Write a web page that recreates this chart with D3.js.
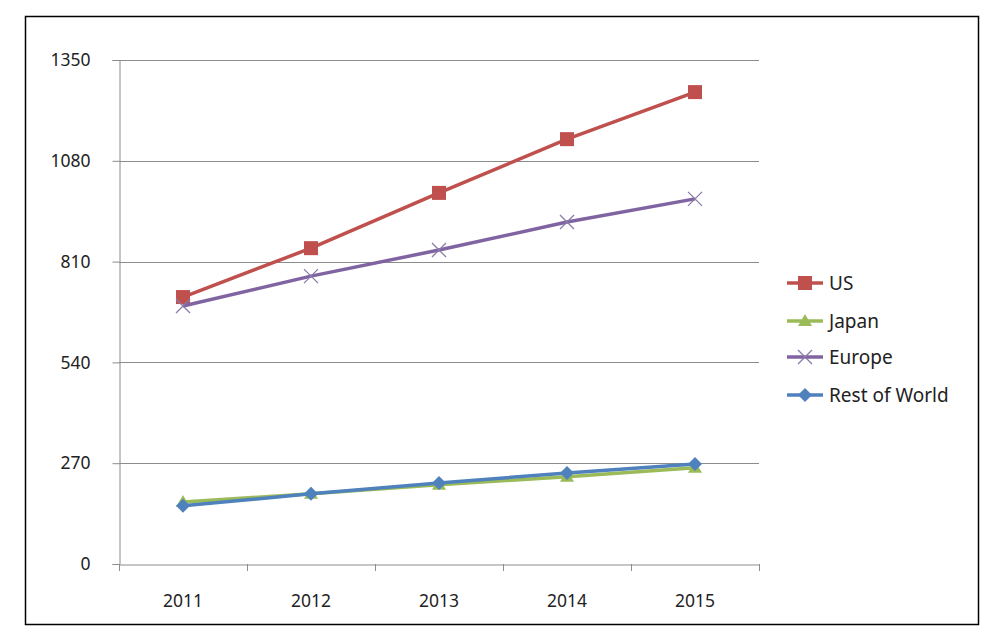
<!DOCTYPE html>
<html><head><meta charset="utf-8">
<script src="https://cdn.jsdelivr.net/npm/d3@7/dist/d3.min.js"></script>
<style>body{margin:0;background:#fff;}svg{display:block;font-family:"Noto Sans","Open Sans",sans-serif;}</style>
</head><body>
<svg id="c" width="991" height="637"></svg>
<script>
const years = ["2011","2012","2013","2014","2015"];
const yTicks = [0,270,540,810,1080,1350];
const seriesNames = ["US","Japan","Europe","Rest of World"];
const us = [715,846,994,1138,1264];
const japan = [166,188,212,234,258];
const europe = [691,771,841,916,978];
const rest = [156,188,217,244,268];
const colors = ["#C0504D","#9BBB59","#8064A2","#4F81BD"];
const markers = ["square","triangle","x","diamond"];
const data = [us,japan,europe,rest];

const svg = d3.select("#c");
svg.append("rect").attr("x",25.5).attr("y",16.5).attr("width",953).attr("height",608)
  .attr("fill","#fff").attr("stroke","#000").attr("stroke-width",1.5);

const L=119,R=759,T=60,B=564;
const x = d3.scaleBand().domain(years).range([L,R]);
const y = d3.scaleLinear().domain([0,1350]).range([B,T]);

// gridlines
svg.append("g").selectAll("line").data(yTicks.filter(d=>d>0)).join("line")
  .attr("x1",L).attr("x2",R).attr("y1",d=>Math.round(y(d))+0.5).attr("y2",d=>Math.round(y(d))+0.5)
  .attr("stroke","#8c8c8c").attr("stroke-width",1);

const yAxis = svg.append("g").attr("transform",`translate(${L+0.5},0)`)
  .call(d3.axisLeft(y).tickValues(yTicks).tickSize(7).tickPadding(22).tickFormat(d3.format("d")));
const xAxis = svg.append("g").attr("transform",`translate(0,${B+0.5})`)
  .call(d3.axisBottom(x).tickSize(0).tickPadding(30));
// x boundary ticks
svg.append("g").selectAll("line").data(years.map(d=>x(d)).concat([R])).join("line")
  .attr("x1",d=>Math.round(d)+0.5).attr("x2",d=>Math.round(d)+0.5).attr("y1",B).attr("y2",B+7)
  .attr("stroke","#8c8c8c");
[yAxis,xAxis].forEach(a=>{
  a.select(".domain").attr("stroke","#8c8c8c");
  a.selectAll(".tick line").attr("stroke","#8c8c8c");
  a.selectAll("text").attr("font-size",17.5).attr("fill","#222").attr("font-family","Noto Sans, sans-serif");
});

function drawMarker(g,type,cx,cy,color,s){
  if(type==="square") g.append("rect").attr("x",cx-7).attr("y",cy-7).attr("width",14).attr("height",14).attr("fill",color);
  else if(type==="triangle") g.append("path").attr("d",`M${cx},${cy-7}L${cx+7},${cy+5}L${cx-7},${cy+5}Z`).attr("fill",color);
  else if(type==="diamond") g.append("path").attr("d",`M${cx},${cy-7}L${cx+7},${cy}L${cx},${cy+7}L${cx-7},${cy}Z`).attr("fill",color);
  else if(type==="x") g.append("path").attr("d",`M${cx-7},${cy-7}L${cx+7},${cy+7}M${cx+7},${cy-7}L${cx-7},${cy+7}`).attr("stroke",color).attr("stroke-width",1.3).attr("fill","none");
}

const line = d3.line().x((d,i)=>x(years[i])+x.bandwidth()/2).y(d=>y(d));
const order=[0,2,1,3];
order.forEach(k=>{
  const g=svg.append("g");
  g.append("path").datum(data[k]).attr("d",line).attr("fill","none").attr("stroke",colors[k]).attr("stroke-width",3.5).attr("stroke-linejoin","round");
  data[k].forEach((v,i)=>drawMarker(g,markers[k],x(years[i])+x.bandwidth()/2,y(v),k===2?"#8a7aab":colors[k]));
});

// legend
const ly=[283,321,357,395];
seriesNames.forEach((n,k)=>{
  const g=svg.append("g");
  g.append("line").attr("x1",787).attr("x2",823).attr("y1",ly[k]).attr("y2",ly[k]).attr("stroke",colors[k]).attr("stroke-width",3.5);
  drawMarker(g,markers[k],805,ly[k],k===2?"#8a7aab":colors[k]);
  g.append("text").attr("x",829).attr("y",ly[k]+6.5).attr("font-size",19).attr("fill","#222").text(n);
});
</script>
</body></html>
